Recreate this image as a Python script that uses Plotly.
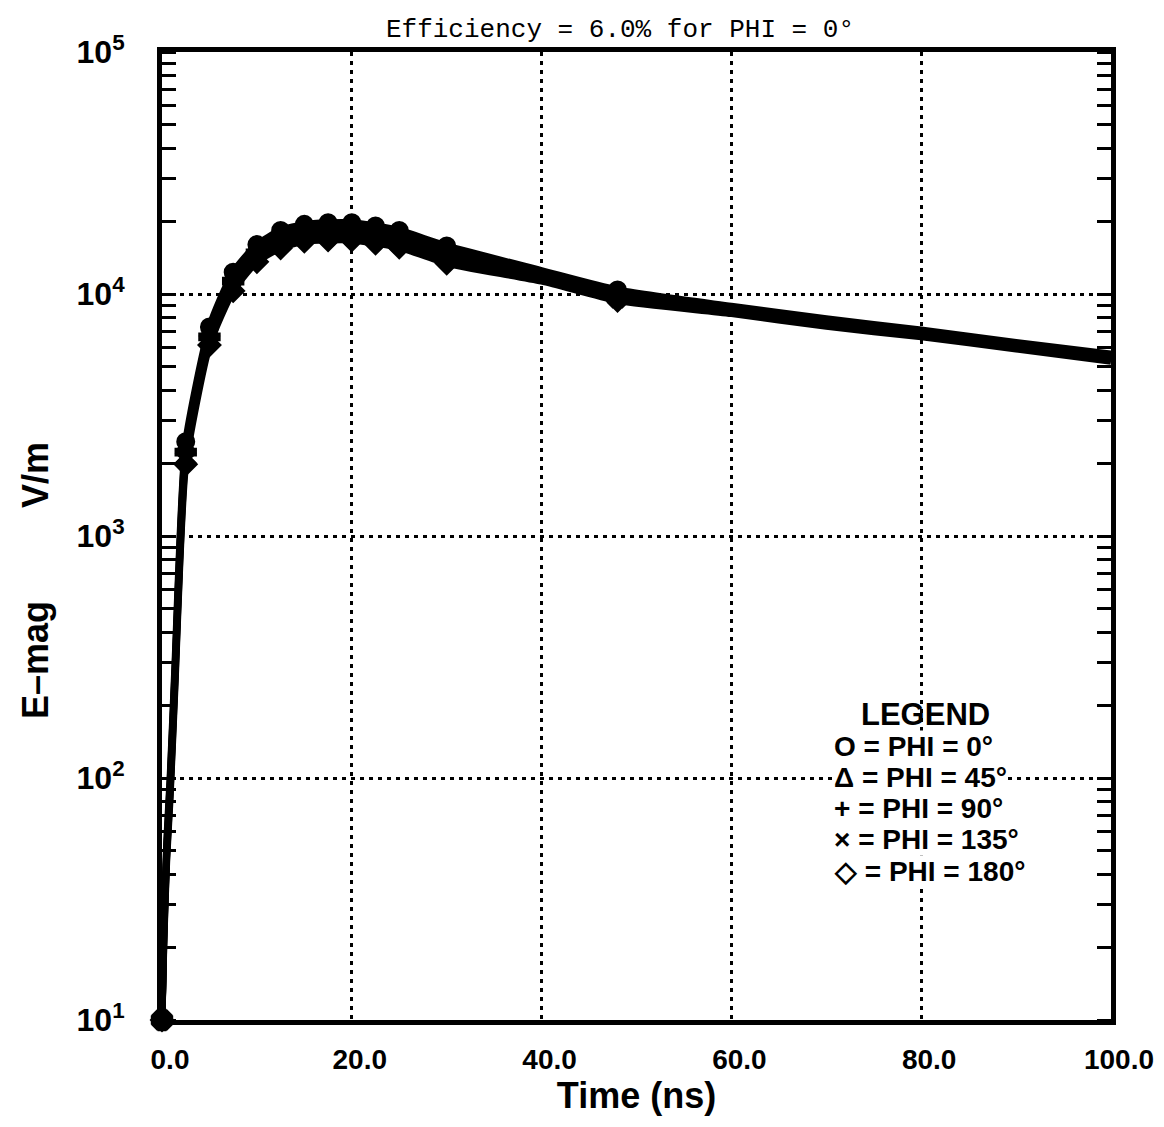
import plotly.graph_objects as go

# ---- data ----
time_ns = [0, 0.2, 0.5, 0.85, 1.4, 1.9, 2.5, 5, 7.5, 10, 12.5, 15, 17.5, 20,
           22.5, 25, 30, 40, 48, 60, 70, 80, 90, 100]
marker_idx = [0, 6, 7, 8, 9, 10, 11, 12, 13, 14, 15, 16, 18]

e_phi0 = [10, 25, 55, 100, 320, 1000, 2450, 7300, 12300, 16000, 18300, 19400,
          19700, 19700, 19100, 18300, 15800, 12500, 10400, 8900, 7900, 7100, 6300, 5650]
e_phi45 = [10, 24, 52, 95, 300, 940, 2330, 6950, 11800, 15400, 17600, 18600,
           18900, 18900, 18300, 17600, 15200, 12200, 10150, 8750, 7800, 7000, 6200, 5570]
e_phi90 = [10, 23, 50, 90, 285, 890, 2220, 6650, 11300, 14800, 16900, 17900,
           18200, 18200, 17600, 16900, 14600, 11900, 9900, 8600, 7650, 6900, 6120, 5480]
e_phi135 = [10, 22, 48, 86, 270, 840, 2100, 6400, 10800, 14200, 16200, 17200,
            17400, 17400, 16900, 16200, 14000, 11600, 9650, 8450, 7500, 6780, 6030, 5380]
e_phi180 = [10, 21, 46, 82, 255, 800, 1980, 6150, 10300, 13600, 15500, 16500,
            16700, 16700, 16200, 15600, 13400, 11300, 9400, 8300, 7350, 6650, 5930, 5270]

series_names = ["PHI = 0°", "PHI = 45°", "PHI = 90°", "PHI = 135°", "PHI = 180°"]
series_values = [e_phi0, e_phi45, e_phi90, e_phi135, e_phi180]
series_symbols = ["circle", "triangle-up", "cross", "x", "diamond"]
legend_glyphs = ["O", "Δ", "+", "×", "◇"]

x_tickvals = [0, 20, 40, 60, 80, 100]
x_ticktext = ["0.0", "20.0", "40.0", "60.0", "80.0", "100.0"]
y_tickvals = [10, 100, 1000, 10000, 100000]
y_ticktext = ["10<sup>1</sup>", "10<sup>2</sup>", "10<sup>3</sup>", "10<sup>4</sup>", "10<sup>5</sup>"]

title_text = "Efficiency = 6.0% for PHI = 0°"
x_title = "Time (ns)"
y_title_parts = ["E–mag", "V/m"]

# ---- layout geometry (page pixels; page body has an 8px margin) ----
OFF = 8
W, H = 1164 - 2 * OFF, 1127 - 2 * OFF
PL, PR, PT, PB = 162, 1111, 52, 1020          # plot area in page pixels
L, R, T, B = PL - OFF, W - (PR - OFF), PT - OFF, H - (PB - OFF)
FONT = "Liberation Sans, Arial, sans-serif"


def px_x(px):
    return (px - PL) / (PR - PL)


def px_y(py):
    return (PB - py) / (PB - PT)


fig = go.Figure()
for name, vals, sym in zip(series_names, series_values, series_symbols):
    fig.add_trace(go.Scatter(x=time_ns, y=vals, mode="lines", name=name,
                             line=dict(color="black", width=7, shape="spline", smoothing=0.6),
                             showlegend=False, cliponaxis=False))
    fig.add_trace(go.Scatter(x=[time_ns[i] for i in marker_idx],
                             y=[vals[i] for i in marker_idx],
                             mode="markers", name=name,
                             marker=dict(symbol=sym, size=17, color="black",
                                         line=dict(color="black", width=2)),
                             showlegend=False, cliponaxis=False))

fig.update_layout(
    width=W, height=H,
    margin=dict(l=L, r=R, t=T, b=B, autoexpand=False),
    paper_bgcolor="white", plot_bgcolor="white",
    title=dict(text=title_text, x=(620 - OFF) / W, xref="container", xanchor="center",
               y=1 - (28 - OFF) / H, yref="container", yanchor="middle",
               font=dict(family="Liberation Mono, DejaVu Sans Mono, monospace",
                         size=26, color="black")),
    xaxis=dict(range=[0, 100], tickmode="array", tickvals=x_tickvals,
               ticktext=x_ticktext, ticks="", showline=True, linewidth=5,
               linecolor="black", mirror=True, showgrid=True, gridcolor="black",
               gridwidth=3, griddash="4px,5px", zeroline=False,
               ticklabelshift=8, ticklabelstandoff=10, ticklabeloverflow="allow",
               tickfont=dict(family=FONT, size=28, color="black", weight="bold"),
               title=dict(text=x_title, standoff=8,
                          font=dict(family=FONT, size=36, color="black", weight="bold"))),
    yaxis=dict(type="log", range=[1, 5], tickmode="array", tickvals=y_tickvals,
               ticktext=y_ticktext, ticks="", showline=True, linewidth=5,
               linecolor="black", mirror="allticks", showgrid=True, gridcolor="black",
               gridwidth=3, griddash="4px,5px", zeroline=False,
               ticklabelstandoff=26, ticklabeloverflow="allow",
               tickfont=dict(family=FONT, size=32, color="black", weight="bold"),
               minor=dict(ticks="inside", ticklen=14, tickwidth=3, tickcolor="black",
                          dtick="D1", showgrid=False)),
)

# y axis title, two rotated pieces
for txt, py in zip(y_title_parts, [660, 475]):
    fig.add_annotation(text=txt, x=px_x(35), y=px_y(py), xref="paper", yref="paper",
                       xanchor="center", yanchor="middle", showarrow=False,
                       textangle=-90,
                       font=dict(family=FONT, size=36, color="black", weight="bold"))

# legend block drawn as text
fig.add_annotation(text="LEGEND", x=px_x(925), y=px_y(714), xref="paper", yref="paper",
                   xanchor="center", yanchor="middle", showarrow=False,
                   font=dict(family=FONT, size=31, color="black", weight="bold"))
legend_y = [746, 777, 808, 839, 871]
for glyph, name, py in zip(legend_glyphs, series_names, legend_y):
    fig.add_annotation(text=f"{glyph} = {name}", x=px_x(833), y=px_y(py),
                       xref="paper", yref="paper", xanchor="left", yanchor="middle",
                       showarrow=False, bgcolor="white", borderpad=0,
                       font=dict(family=FONT, size=28, color="black", weight="bold"))

fig.write_html("out.html")
